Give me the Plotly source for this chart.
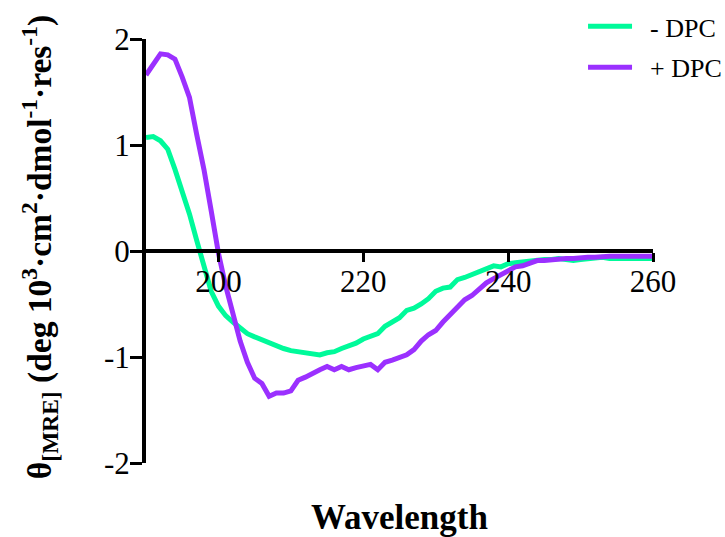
import plotly.graph_objects as go

wavelength = list(range(190, 261))

minus_dpc = [
    1.07, 1.08, 1.04, 0.96, 0.77, 0.56, 0.35, 0.10, -0.15, -0.38,
    -0.52, -0.61, -0.67, -0.73, -0.78, -0.81, -0.84, -0.86, -0.90, -0.92,
    -0.94, -0.95, -0.97, -0.98, -0.98, -0.96, -0.95, -0.92, -0.90, -0.87,
    -0.83, -0.80, -0.78, -0.71, -0.67, -0.63, -0.56, -0.54, -0.50, -0.45,
    -0.38, -0.35, -0.34, -0.27, -0.25, -0.22, -0.19, -0.17, -0.14, -0.15,
    -0.12, -0.11, -0.10, -0.09, -0.09, -0.08, -0.08, -0.07, -0.08, -0.09,
    -0.08, -0.07, -0.07, -0.06, -0.07, -0.07, -0.06, -0.06, -0.07, -0.07,
    -0.07,
]

plus_dpc = [
    1.66, 1.77, 1.86, 1.85, 1.81, 1.64, 1.45, 1.10, 0.77, 0.38,
    -0.02, -0.33, -0.60, -0.85, -1.05, -1.20, -1.25, -1.37, -1.34, -1.34,
    -1.32, -1.22, -1.19, -1.15, -1.12, -1.09, -1.12, -1.09, -1.12, -1.10,
    -1.08, -1.07, -1.12, -1.05, -1.03, -1.00, -0.98, -0.93, -0.85, -0.79,
    -0.75, -0.67, -0.60, -0.53, -0.46, -0.42, -0.36, -0.30, -0.26, -0.22,
    -0.18, -0.15, -0.14, -0.11, -0.09, -0.09, -0.08, -0.07, -0.07, -0.07,
    -0.06, -0.06, -0.06, -0.05, -0.05, -0.05, -0.05, -0.05, -0.05, -0.05,
    -0.05,
]

x_ticks = [200, 220, 240, 260]
y_ticks = [-2, -1, 0, 1, 2]

series_names = ["- DPC", "+ DPC"]
series_colors = ["#00FA9A", "#9B30FF"]

FONT = "Times New Roman, Liberation Serif, DejaVu Serif, serif"
PAD = "\u00a0\u00a0"

fig = go.Figure()
for name, ys, col in zip(series_names, [minus_dpc, plus_dpc], series_colors):
    fig.add_trace(go.Scatter(
        x=wavelength, y=ys, mode="lines", name=PAD + name, legendgroup=name,
        line=dict(color=col, width=5),
    ))

fig.update_layout(
    width=725, height=537,
    margin=dict(l=146, r=72, t=39, b=74, autoexpand=False),
    paper_bgcolor="white", plot_bgcolor="white",
    font=dict(family=FONT, color="black", size=30),
    showlegend=True,
    legend=dict(
        x=0.862, y=1.085, xanchor="left", yanchor="top",
        font=dict(family=FONT, size=26, color="black"),
        bgcolor="rgba(0,0,0,0)", traceorder="grouped", tracegroupgap=4,
        itemwidth=44,
    ),
    xaxis=dict(
        range=[190, 260], tickvals=x_ticks, ticktext=[str(v) for v in x_ticks],
        showgrid=False, zeroline=False, showline=True, linecolor="black", linewidth=4,
        ticks="outside", ticklen=9, tickwidth=3, tickcolor="black",
        anchor="free", position=0.5, ticklabelstandoff=-7,
        tickfont=dict(family=FONT, size=31),
    ),
    yaxis=dict(
        range=[-2, 2], tickvals=y_ticks, ticktext=[str(v) for v in y_ticks],
        showgrid=False, zeroline=False, showline=True, linecolor="black", linewidth=4,
        ticks="outside", ticklen=12, tickwidth=3, tickcolor="black",
        ticklabelstandoff=-6,
        tickfont=dict(family=FONT, size=31),
    ),
    annotations=[
        dict(
            text="<b>Wavelength</b>", xref="paper", yref="paper",
            x=0.5, y=-0.128, xanchor="center", yanchor="middle", showarrow=False,
            font=dict(family=FONT, size=35, color="black"),
        ),
        dict(
            text="<b>θ<sub>[MRE]</sub> (deg 10<sup>3</sup>·cm<sup>2</sup>·dmol<sup>-1</sup>·res<sup>-1</sup>)</b>",
            xref="paper", yref="paper", x=-0.21, y=0.508, xanchor="center", yanchor="middle",
            textangle=-90, showarrow=False,
            font=dict(family=FONT, size=33.5, color="black"),
        ),
    ],
)

fig.write_html("out.html")
